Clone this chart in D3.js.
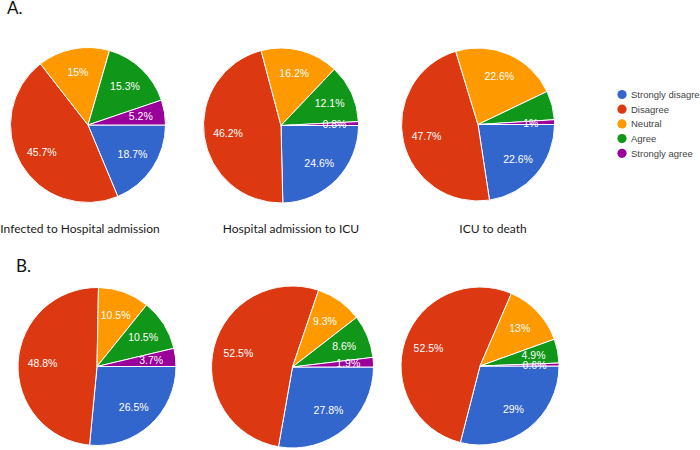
<!DOCTYPE html>
<html>
<head>
<meta charset="utf-8">
<script src="https://cdn.jsdelivr.net/npm/d3@7"></script>
<style>
  body { margin: 0; background: #fff; }
  svg { display: block; }
</style>
</head>
<body>
<svg id="chart" width="700" height="450"></svg>
<script>
// answer categories, in the order the slices are drawn (clockwise from 3 o'clock)
const categories = ["Strongly disagree", "Disagree", "Neutral", "Agree", "Strongly agree"];
const palette = ["#3366cc", "#dc3912", "#ff9900", "#109618", "#990099"];

const chartTitles = ["Infected to Hospital admission", "Hospital admission to ICU", "ICU to death"];

// panel A (percent)
const aInfectedToHospital = [18.7, 45.7, 15, 15.3, 5.2];
const aHospitalToIcu = [24.6, 46.2, 16.2, 12.1, 0.8];
const aIcuToDeath = [22.6, 47.7, 22.6, 6.1, 1];

// panel B (percent)
const bInfectedToHospital = [26.5, 48.8, 10.5, 10.5, 3.7];
const bHospitalToIcu = [27.8, 52.5, 9.3, 8.6, 1.9];
const bIcuToDeath = [29, 52.5, 13, 4.9, 0.6];

// slices whose label is not printed in the original
const hiddenLabels = [{ pie: "aIcuToDeath", category: "Agree" }];

const svg = d3.select("#chart");

// pie positions
const pies = [
  { id: "aInfectedToHospital", values: aInfectedToHospital, cx: 88, cy: 125, r: 77.5 },
  { id: "aHospitalToIcu", values: aHospitalToIcu, cx: 281, cy: 125.5, r: 77.5 },
  { id: "aIcuToDeath", values: aIcuToDeath, cx: 478, cy: 124.5, r: 76.5 },
  { id: "bInfectedToHospital", values: bInfectedToHospital, cx: 97, cy: 366.5, r: 79 },
  { id: "bHospitalToIcu", values: bHospitalToIcu, cx: 292.5, cy: 367, r: 81 },
  { id: "bIcuToDeath", values: bIcuToDeath, cx: 480, cy: 366, r: 79 }
];

const pie = d3.pie()
  .value(d => d.value)
  .sort(null)
  .startAngle(Math.PI / 2)
  .endAngle(Math.PI / 2 + 2 * Math.PI);

const fmt = v => d3.format("~")(v) + "%";

pies.forEach(p => {
  const data = categories.map((c, i) => ({ category: c, value: p.values[i], color: palette[i] }));
  const arc = d3.arc().innerRadius(0).outerRadius(p.r);
  // labels sit at about two thirds of the radius
  const labelArc = d3.arc().innerRadius(p.r * 0.69).outerRadius(p.r * 0.69);

  const g = svg.append("g").attr("transform", `translate(${p.cx},${p.cy})`);

  g.selectAll("path")
    .data(pie(data))
    .join("path")
    .attr("d", arc)
    .attr("fill", d => d.data.color)
    .attr("stroke", "#fff")
    .attr("stroke-width", 1);

  g.selectAll("text")
    .data(pie(data).filter(d => !hiddenLabels.some(h => h.pie === p.id && h.category === d.data.category)))
    .join("text")
    .attr("transform", d => `translate(${labelArc.centroid(d)})`)
    .attr("text-anchor", "middle")
    .attr("dy", "0.36em")
    .attr("fill", "#fff")
    .style("font-family", "'Liberation Sans', Arial, sans-serif")
    .style("font-size", "10.5px")
    .text(d => fmt(d.data.value));
});

// titles under the top row
const titleX = [80, 291, 493];
svg.selectAll("text.title")
  .data(chartTitles)
  .join("text")
  .attr("class", "title")
  .attr("x", (d, i) => titleX[i])
  .attr("y", 233)
  .attr("text-anchor", "middle")
  .attr("fill", "#1a1a1a")
  .style("font-family", "Lato, 'Open Sans', sans-serif")
  .style("font-size", "12px")
  .text(d => d);

// panel letters
svg.append("text").attr("x", 7).attr("y", 14)
  .style("font-family", "Lato, sans-serif").style("font-size", "17px").attr("fill", "#111").text("A.");
svg.append("text").attr("x", 16).attr("y", 272)
  .style("font-family", "Lato, sans-serif").style("font-size", "17px").attr("fill", "#111").text("B.");

// legend
const legend = svg.append("g").attr("transform", "translate(622,94.5)");
const item = legend.selectAll("g")
  .data(categories)
  .join("g")
  .attr("transform", (d, i) => `translate(0,${i * 14.7})`);
item.append("circle")
  .attr("r", 4.6)
  .attr("fill", (d, i) => palette[i]);
item.append("text")
  .attr("x", 9)
  .attr("dy", "0.35em")
  .attr("fill", "#444")
  .style("font-family", "'Liberation Sans', Arial, sans-serif")
  .style("font-size", "9.5px")
  .text(d => d);
</script>
</body>
</html>
